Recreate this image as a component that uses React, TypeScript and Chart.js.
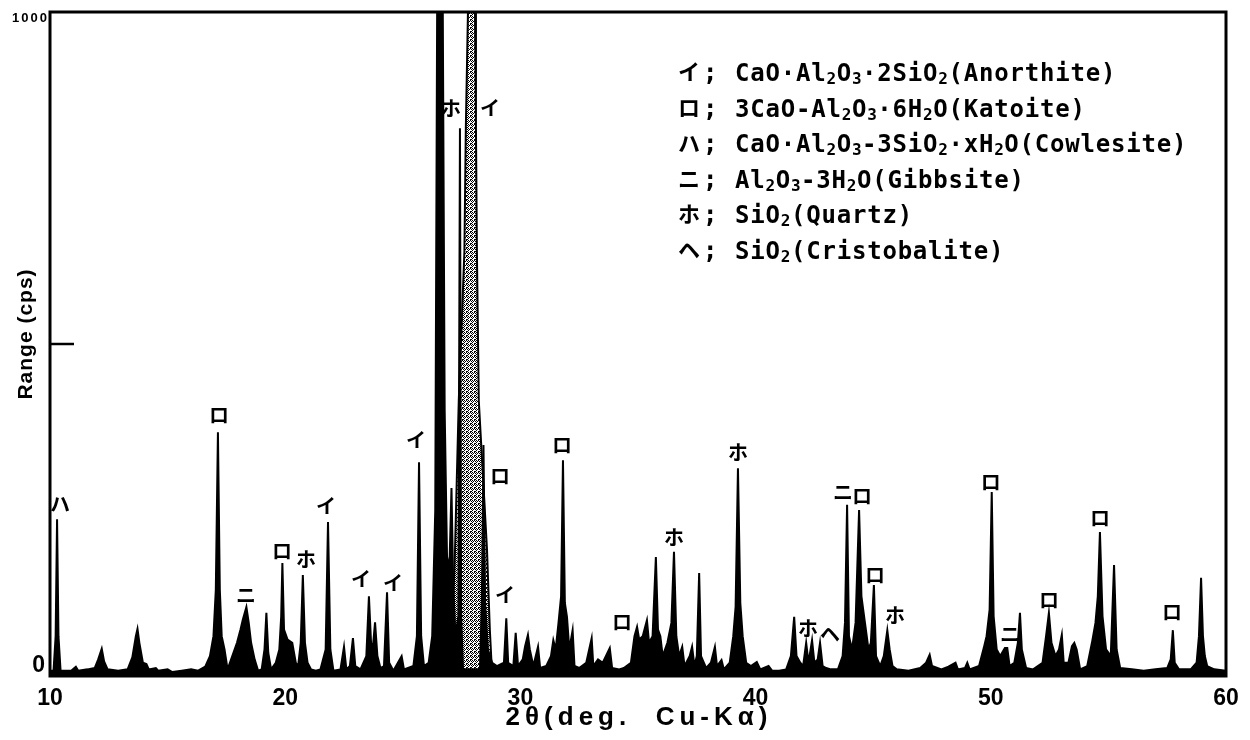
import React, { useEffect, useRef } from "react";
import { Chart, registerables } from "chart.js";

Chart.register(...registerables);

// ---- Diffraction trace (2θ in degrees, intensity in cps) ----
const theta10to20 = [10.0, 10.15, 10.24, 10.3, 10.36, 10.45, 10.9, 11.1, 11.2, 11.6, 11.9, 12.05, 12.2, 12.3, 12.45, 12.9, 13.3, 13.5, 13.65, 13.72, 13.8, 13.95, 14.1, 14.2, 14.5, 14.6, 15.0, 15.2, 15.6, 16.0, 16.3, 16.6, 16.8, 16.95, 17.05, 17.14, 17.22, 17.3, 17.42, 17.55, 17.75, 17.95, 18.1, 18.2, 18.35, 18.45, 18.55, 18.7, 18.85, 19.0, 19.12, 19.2, 19.28, 19.4, 19.6, 19.75, 19.83, 19.88, 19.95];
const cps10to20 = [8, 8, 60, 236, 60, 8, 8, 14, 8, 10, 12, 25, 41, 22, 10, 8, 10, 28, 60, 71, 50, 20, 18, 10, 12, 8, 10, 6, 8, 10, 8, 14, 30, 60, 130, 367, 130, 60, 40, 10, 30, 50, 70, 85, 104, 80, 50, 25, 8, 10, 40, 95, 35, 10, 20, 40, 90, 170, 70];

const theta20to30 = [20.1, 20.3, 20.45, 20.55, 20.66, 20.75, 20.84, 20.95, 21.1, 21.3, 21.5, 21.72, 21.82, 21.92, 22.05, 22.35, 22.5, 22.6, 22.75, 22.88, 22.98, 23.2, 23.45, 23.56, 23.65, 23.72, 23.82, 23.92, 24.05, 24.2, 24.33, 24.42, 24.6, 24.95, 25.05, 25.45, 25.6, 25.69, 25.78, 25.9, 26.1, 26.25, 26.38, 26.46, 26.58, 26.7, 26.78, 26.88, 26.98, 27.07, 27.14, 27.24, 27.36, 27.43, 27.48, 27.56, 28.28, 28.36, 28.43, 28.5, 28.62, 28.8, 29.0, 29.3, 29.4, 29.48, 29.7, 29.8, 29.9];
const cps20to30 = [55, 50, 20, 15, 50, 152, 50, 20, 10, 8, 10, 40, 232, 40, 8, 10, 44, 10, 15, 57, 15, 10, 30, 120, 50, 40, 81, 30, 12, 15, 126, 20, 8, 30, 10, 15, 60, 322, 60, 15, 20, 60, 250, 1000, 2600, 1000, 400, 180, 160, 283, 140, 60, 90, 825, 90, 10, 10, 110, 348, 110, 40, 20, 15, 20, 87, 20, 15, 65, 15];

const theta30to40 = [30.1, 30.2, 30.32, 30.4, 30.55, 30.75, 30.84, 31.1, 31.3, 31.4, 31.5, 31.62, 31.73, 31.81, 31.89, 31.98, 32.08, 32.22, 32.3, 32.5, 32.8, 33.03, 33.1, 33.3, 33.5, 33.8, 33.9, 34.2, 34.4, 34.7, 34.85, 34.96, 35.05, 35.2, 35.38, 35.47, 35.62, 35.76, 35.85, 35.95, 36.05, 36.25, 36.42, 36.53, 36.63, 36.75, 36.88, 36.98, 37.2, 37.3, 37.4, 37.5, 37.6, 37.68, 37.9, 38.1, 38.27, 38.36, 38.55, 38.65, 38.9, 39.05, 39.15, 39.25, 39.35, 39.45, 39.6, 39.8];
const cps30to40 = [25, 45, 62, 40, 15, 44, 12, 15, 30, 54, 40, 80, 120, 325, 110, 89, 40, 69, 15, 12, 20, 57, 15, 25, 20, 42, 12, 10, 12, 20, 60, 74, 55, 60, 84, 50, 60, 179, 70, 60, 30, 50, 80, 187, 60, 30, 44, 15, 30, 44, 15, 30, 155, 30, 12, 20, 44, 15, 24, 10, 20, 60, 104, 313, 110, 60, 20, 15];

const theta40to50 = [40.05, 40.2, 40.55, 40.7, 41.0, 41.3, 41.5, 41.64, 41.74, 41.9, 42.02, 42.15, 42.25, 42.4, 42.5, 42.64, 42.74, 42.85, 43.0, 43.2, 43.5, 43.7, 43.8, 43.89, 43.97, 44.1, 44.25, 44.4, 44.5, 44.65, 44.8, 44.9, 45.03, 45.12, 45.3, 45.45, 45.6, 45.7, 45.82, 46.0, 46.5, 47.0, 47.25, 47.4, 47.5, 47.9, 48.2, 48.5, 48.6, 48.9, 49.0, 49.1, 49.5, 49.7, 49.82, 49.95];
const cps40to50 = [21, 10, 15, 8, 8, 10, 30, 89, 30, 20, 15, 50, 20, 54, 20, 25, 50, 15, 12, 10, 10, 30, 80, 258, 60, 40, 80, 250, 120, 80, 40, 50, 137, 30, 15, 30, 69, 40, 15, 10, 8, 12, 20, 32, 15, 10, 14, 20, 10, 12, 20, 10, 15, 42, 60, 100];

const theta50to60 = [50.04, 50.12, 50.25, 50.4, 50.6, 50.7, 50.8, 51.0, 51.15, 51.24, 51.32, 51.5, 51.8, 52.2, 52.35, 52.47, 52.58, 52.75, 52.9, 53.02, 53.1, 53.3, 53.45, 53.55, 53.65, 53.8, 54.1, 54.3, 54.45, 54.55, 54.64, 54.75, 54.9, 55.1, 55.24, 55.35, 55.5, 56.0, 56.5, 57.0, 57.5, 57.65, 57.74, 57.82, 58.0, 58.5, 58.75, 58.85, 58.94, 59.02, 59.1, 59.2, 59.5, 60.0];
const cps50to60 = [277, 90, 40, 30, 42, 42, 15, 20, 50, 95, 40, 12, 10, 20, 60, 95, 50, 30, 40, 62, 20, 20, 45, 50, 40, 10, 15, 50, 80, 120, 217, 90, 40, 30, 167, 40, 12, 10, 8, 10, 12, 25, 69, 20, 10, 10, 20, 60, 148, 60, 30, 15, 10, 8];

// the broad, stippled anorthite reflection near 27.9°
const stippleTheta = [27.0, 27.1, 27.22, 27.38, 27.62, 27.68, 27.77, 27.92, 28.07, 28.11, 28.15, 28.23, 28.58, 28.7, 28.8];
const stippleCps = [0, 60, 190, 415, 640, 825, 1000, 2500, 1000, 825, 640, 415, 190, 70, 0];

// ---- Axis ticks ----
const xTickValues = [10, 20, 30, 40, 50, 60];
const yLabelValues = [0, 1000];
const yLabelTexts = ["0", "1000"];
const yInnerTickValues = [500];

// ---- Peak identification marks ----
const markText = ["ハ", "ロ", "ニ", "ロ", "ホ", "イ", "イ", "イ", "イ", "ホ", "イ", "ロ", "イ", "ロ", "ロ", "ホ", "ホ", "ホ", "ヘ", "ニ", "ロ", "ロ", "ホ", "ロ", "ニ", "ロ", "ロ", "ロ"];
const markTheta = [10.43, 17.19, 18.33, 19.86, 20.88, 21.73, 23.22, 24.58, 25.56, 27.05, 28.71, 29.13, 29.35, 31.77, 34.32, 36.53, 39.25, 42.23, 43.16, 43.72, 44.52, 45.08, 45.93, 50.0, 50.82, 52.47, 54.64, 57.7];
const markCps = [259, 392, 122, 187, 175, 255, 145, 140, 355, 855, 855, 300, 122, 348, 81, 209, 337, 72, 62, 276, 270, 152, 92, 292, 62, 114, 238, 96];

// ---- Key (phase list); "_" marks the following character as a subscript ----
const keyKana = ["イ", "ロ", "ハ", "ニ", "ホ", "ヘ"];
const keyText = [
  "CaO·Al_2O_3·2SiO_2(Anorthite)",
  "3CaO-Al_2O_3·6H_2O(Katoite)",
  "CaO·Al_2O_3-3SiO_2·xH_2O(Cowlesite)",
  "Al_2O_3-3H_2O(Gibbsite)",
  "SiO_2(Quartz)",
  "SiO_2(Cristobalite)",
];

const xTitle = "2θ(deg.  Cu-Kα)";
const yTitle = "Range (cps)";

const toPoints = (xs: number[], ys: number[]) => xs.map((x, i) => ({ x, y: ys[i] }));

function makeStipple(): CanvasPattern | string {
  const c = document.createElement("canvas");
  c.width = 4;
  c.height = 4;
  const p = c.getContext("2d");
  if (!p) return "#777";
  p.fillStyle = "#fff";
  p.fillRect(0, 0, 4, 4);
  p.fillStyle = "#000";
  const dots = [[0, 0], [2, 0], [1, 1], [3, 1], [0, 2], [2, 3], [3, 3]];
  dots.forEach(([x, y]) => p.fillRect(x, y, 1, 1));
  return p.createPattern(c, "repeat") || "#777";
}

function drawRich(ctx: CanvasRenderingContext2D, text: string, x: number, y: number) {
  let cx = x;
  for (let i = 0; i < text.length; i++) {
    let ch = text[i];
    let sub = false;
    if (ch === "_" && i + 1 < text.length) {
      sub = true;
      i++;
      ch = text[i];
    }
    ctx.font = sub ? 'bold 16px "DejaVu Sans Mono"' : 'bold 24px "DejaVu Sans Mono"';
    ctx.fillText(ch, cx, sub ? y + 3 : y);
    cx += ctx.measureText(ch).width + (sub ? 0.5 : 0.8);
  }
}

const decorPlugin = {
  id: "decor",
  afterDraw(chart: any) {
    const { ctx, chartArea: a, scales } = chart;
    const x = scales.x;
    const y = scales.y;
    ctx.save();
    ctx.fillStyle = "#000";
    ctx.strokeStyle = "#000";

    // frame
    ctx.lineWidth = 3;
    ctx.strokeRect(a.left, a.top, a.right - a.left, a.bottom - a.top);

    // inner tick at 500
    ctx.lineWidth = 2.5;
    yInnerTickValues.forEach((v) => {
      const py = y.getPixelForValue(v);
      ctx.beginPath();
      ctx.moveTo(a.left, py);
      ctx.lineTo(a.left + 24, py);
      ctx.stroke();
    });

    // y labels
    ctx.textAlign = "right";
    ctx.textBaseline = "alphabetic";
    ctx.font = 'bold 23px "Liberation Sans"';
    ctx.fillText(yLabelTexts[0], a.left - 5, y.getPixelForValue(yLabelValues[0]) - 4);
    ctx.font = 'bold 13px "Liberation Sans"';
    (ctx as any).letterSpacing = "2px";
    ctx.fillText(yLabelTexts[1], a.left - 1, y.getPixelForValue(yLabelValues[1]) + 10);
    (ctx as any).letterSpacing = "0px";

    // x title
    ctx.textAlign = "center";
    ctx.font = 'bold 26px "Liberation Sans"';
    (ctx as any).letterSpacing = "5px";
    ctx.fillText(xTitle, (a.left + a.right) / 2 + 1, a.bottom + 49);

    // y title
    ctx.save();
    ctx.translate(26, (a.top + a.bottom) / 2 - 10);
    ctx.rotate(-Math.PI / 2);
    ctx.font = 'bold 21px "Liberation Sans"';
    (ctx as any).letterSpacing = "1px";
    ctx.textBaseline = "middle";
    ctx.fillText(yTitle, 0, 0);
    ctx.restore();
    (ctx as any).letterSpacing = "0px";

    // peak marks
    ctx.save();
    ctx.beginPath();
    ctx.rect(a.left, a.top, a.right - a.left, a.bottom - a.top);
    ctx.clip();
    ctx.textAlign = "center";
    ctx.textBaseline = "middle";
    ctx.font = 'bold 20px "Noto Sans CJK JP"';
    markText.forEach((t, i) => {
      ctx.fillText(t, x.getPixelForValue(markTheta[i]), y.getPixelForValue(markCps[i]));
    });
    ctx.restore();

    // key
    const kx = 678;
    const ky0 = 72;
    const kdy = 35.5;
    keyKana.forEach((k, i) => {
      const cy = ky0 + i * kdy;
      ctx.textAlign = "left";
      ctx.textBaseline = "middle";
      ctx.font = 'bold 22px "Noto Sans CJK JP"';
      ctx.fillText(k, kx, cy);
      ctx.textBaseline = "alphabetic";
      ctx.font = 'bold 24px "DejaVu Sans Mono"';
      ctx.fillText(";", kx + 25, cy + 9);
      drawRich(ctx, keyText[i], kx + 57, cy + 9);
    });

    ctx.restore();
  },
};

export default function App() {
  const ref = useRef<HTMLCanvasElement | null>(null);

  useEffect(() => {
    if (!ref.current) return;
    const theta = [...theta10to20, ...theta20to30, ...theta30to40, ...theta40to50, ...theta50to60];
    const cps = [...cps10to20, ...cps20to30, ...cps30to40, ...cps40to50, ...cps50to60];
    const chart = new Chart(ref.current, {
      type: "line",
      data: {
        datasets: [
          {
            label: "XRD pattern",
            data: toPoints(theta, cps),
            borderColor: "#000",
            backgroundColor: "#000",
            borderWidth: 2,
            pointRadius: 0,
            tension: 0,
            fill: "origin",
            order: 0,
          },
          {
            label: "Anorthite 27.9°",
            data: toPoints(stippleTheta, stippleCps),
            borderColor: "#000",
            backgroundColor: makeStipple() as any,
            borderWidth: 2,
            pointRadius: 0,
            tension: 0,
            fill: "origin",
            order: 1,
          },
        ],
      },
      options: {
        responsive: false,
        animation: false,
        layout: { padding: { top: 12, right: 24, left: 0, bottom: 0 } },
        plugins: { legend: { display: false }, tooltip: { enabled: false } },
        scales: {
          x: {
            type: "linear",
            min: 10,
            max: 60,
            afterBuildTicks: (s: any) => {
              s.ticks = xTickValues.map((v) => ({ value: v }));
            },
            afterFit: (s: any) => {
              s.height = 64;
            },
            grid: { display: false, drawTicks: false },
            border: { display: false },
            ticks: {
              color: "#000",
              padding: 9,
              maxRotation: 0,
              autoSkip: false,
              font: { family: '"Liberation Sans"', size: 23, weight: "bold" },
            },
          },
          y: {
            type: "linear",
            min: 0,
            max: 1000,
            afterFit: (s: any) => {
              s.width = 50;
            },
            grid: { display: false, drawTicks: false },
            border: { display: false },
            ticks: { display: false },
          },
        },
      },
      plugins: [decorPlugin],
    });
    return () => chart.destroy();
  }, []);

  return (
    <div style={{ position: "fixed", left: 0, top: 0, width: 1250, height: 740, background: "#fff" }}>
      <canvas ref={ref} width={1250} height={740} style={{ display: "block" }} />
    </div>
  );
}
